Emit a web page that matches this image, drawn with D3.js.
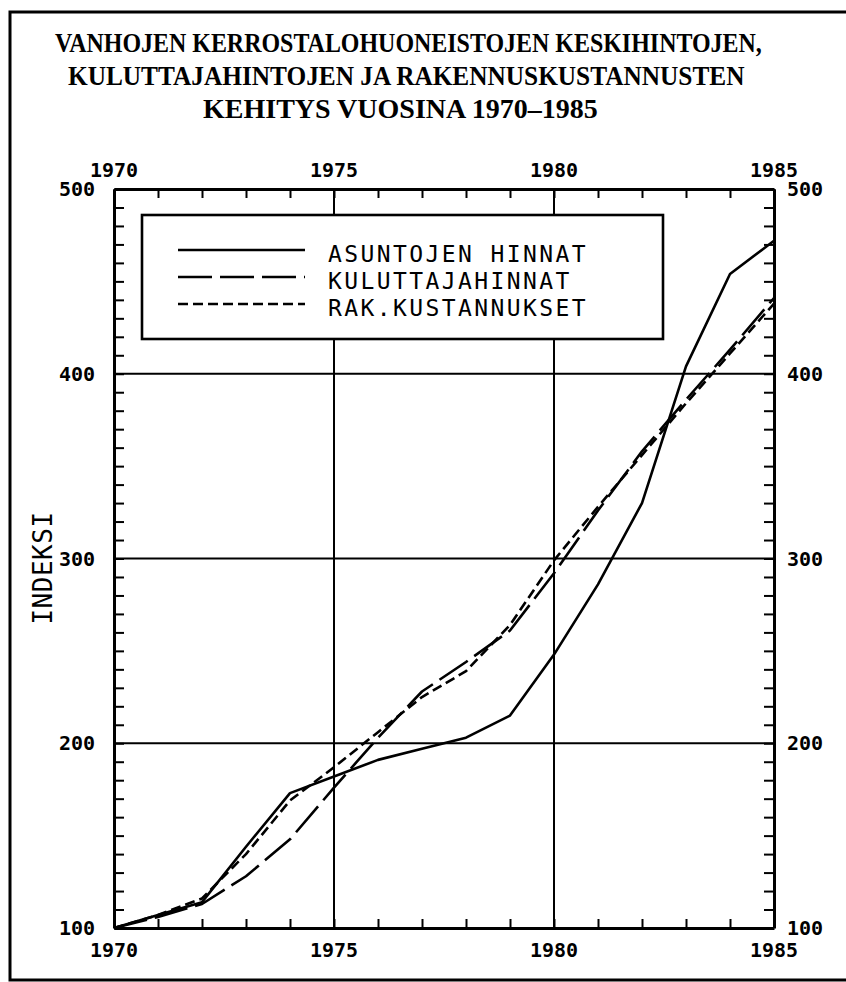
<!DOCTYPE html>
<html><head><meta charset="utf-8">
<script src="https://cdn.jsdelivr.net/npm/d3@7"></script>
<style>html,body{margin:0;padding:0;background:#fff;} svg{display:block}</style>
</head><body><svg id="c" width="846" height="982"></svg>
<script>
// ---- data ----
const titleLines = ["VANHOJEN KERROSTALOHUONEISTOJEN KESKIHINTOJEN,", "KULUTTAJAHINTOJEN JA RAKENNUSKUSTANNUSTEN", "KEHITYS VUOSINA 1970\u20131985"];
const years = [1970,1971,1972,1973,1974,1975,1976,1977,1978,1979,1980,1981,1982,1983,1984,1985];
const asuntojenHinnat = [100,107,114,144,173,182,191,197,203,215,248,286,330,404,454,472];
const kuluttajahinnat = [100,106,113,128,148,176,203,228,244,261,292,326,358,386,413,441];
const rakKustannukset = [100,107,116,140,169,187,206,225,239,264,299,328,356,384,411,438];
const seriesNames = ["ASUNTOJEN HINNAT","KULUTTAJAHINNAT","RAK.KUSTANNUKSET"];
const xTickLabels = [1970,1975,1980,1985];
const yTickLabels = [100,200,300,400,500];
const gridYears = [1975,1980];
const gridValues = [200,300,400];
const yTitle = "INDEKSI";

// ---- chart ----
const svg = d3.select("#c");
const ink = "#000";
const x = d3.scaleLinear().domain([1970,1985]).range([114,774]);
const y = d3.scaleLinear().domain([100,500]).range([928,189]);

// outer frame
svg.append("path").attr("d","M846,12 H10 V980 H846").attr("fill","none").attr("stroke",ink).attr("stroke-width",3);

// title (condensed with a horizontal scale)
const titleLayout = [{x:55,y:52,w:707},{x:68,y:85,w:677},{x:203,y:118,w:395}];
svg.selectAll("text.title").data(titleLines).join("text").attr("class","title")
  .attr("x",0).attr("y",0)
  .attr("font-family","'Liberation Serif','Times New Roman',serif").attr("font-weight","bold")
  .attr("font-size",27).attr("fill",ink).text(d=>d)
  .each(function(d,i){
    const L = titleLayout[i];
    const nat = this.getComputedTextLength();
    d3.select(this).attr("transform",`translate(${L.x},${L.y}) scale(${L.w/nat},1)`);
  });

// gridlines
svg.selectAll("line.gx").data(gridYears).join("line").attr("class","gx")
  .attr("x1",d=>x(d)).attr("x2",d=>x(d)).attr("y1",y(500)).attr("y2",y(100))
  .attr("stroke",ink).attr("stroke-width",2);
svg.selectAll("line.gy").data(gridValues).join("line").attr("class","gy")
  .attr("y1",d=>y(d)).attr("y2",d=>y(d)).attr("x1",x(1970)).attr("x2",x(1985))
  .attr("stroke",ink).attr("stroke-width",2);

// data lines
const series = [
  {name:seriesNames[0], values:asuntojenHinnat, dash:null},
  {name:seriesNames[1], values:kuluttajahinnat, dash:"34,8"},
  {name:seriesNames[2], values:rakKustannukset, dash:"10,5"}
];
const line = d3.line().x((d,i)=>x(years[i])).y(d=>y(d));
svg.selectAll("path.series").data(series).join("path").attr("class","series")
  .attr("d",d=>line(d.values)).attr("fill","none").attr("stroke",ink)
  .attr("stroke-width",2.6).attr("stroke-dasharray",d=>d.dash).attr("stroke-linejoin","round");

// axes (ticks inward)
const minorYears = d3.range(1970,1986,1);
const minorVals = d3.range(100,501,10);
function styleAxis(g){
  g.selectAll(".domain").attr("stroke",ink).attr("stroke-width",3);
  g.selectAll(".tick line").attr("stroke",ink).attr("stroke-width",2);
  g.selectAll(".tick text").remove();
}
svg.append("g").attr("transform",`translate(0,${y(100)})`)
  .call(d3.axisBottom(x).tickValues(minorYears).tickSize(-9).tickSizeOuter(0).tickFormat("")).call(styleAxis);
svg.append("g").attr("transform",`translate(0,${y(500)})`)
  .call(d3.axisTop(x).tickValues(minorYears).tickSize(-9).tickSizeOuter(0).tickFormat("")).call(styleAxis);
svg.append("g").attr("transform",`translate(${x(1970)},0)`)
  .call(d3.axisLeft(y).tickValues(minorVals).tickSize(-10).tickSizeOuter(0).tickFormat("")).call(styleAxis);
svg.append("g").attr("transform",`translate(${x(1985)},0)`)
  .call(d3.axisRight(y).tickValues(minorVals).tickSize(-10).tickSizeOuter(0).tickFormat("")).call(styleAxis);

// tick labels
const lblFont = "'DejaVu Sans Mono',monospace";
function lbl(sel){ return sel.attr("font-family",lblFont).attr("font-size",20).attr("font-weight","bold").attr("fill",ink); }
svg.selectAll("text.xb").data(xTickLabels).join("text").attr("class","xb")
  .attr("x",d=>x(d)).attr("y",957).attr("text-anchor","middle").call(lbl).text(d=>d);
svg.selectAll("text.xt").data(xTickLabels).join("text").attr("class","xt")
  .attr("x",d=>x(d)).attr("y",177).attr("text-anchor","middle").call(lbl).text(d=>d);
svg.selectAll("text.yl").data(yTickLabels).join("text").attr("class","yl")
  .attr("x",95).attr("y",d=>y(d)+7).attr("text-anchor","end").call(lbl).text(d=>d);
svg.selectAll("text.yr").data(yTickLabels).join("text").attr("class","yr")
  .attr("x",787).attr("y",d=>y(d)+7).attr("text-anchor","start").call(lbl).text(d=>d);

// y title
svg.append("text").attr("transform","translate(52,568) rotate(-90)").attr("text-anchor","middle")
  .attr("font-family",lblFont).attr("font-size",26).attr("letter-spacing",0.5).attr("fill",ink).text(yTitle);

// legend
const lg = svg.append("g");
lg.append("rect").attr("x",142).attr("y",215).attr("width",521).attr("height",124)
  .attr("fill","#fff").attr("stroke",ink).attr("stroke-width",2.6);
const rows = lg.selectAll("g.row").data(series).join("g").attr("class","row")
  .attr("transform",(d,i)=>`translate(0,${250+i*27})`);
rows.append("line").attr("x1",178).attr("x2",305).attr("y1",0).attr("y2",0)
  .attr("stroke",ink).attr("stroke-width",2.6).attr("stroke-dasharray",d=>d.dash);
rows.append("text").attr("x",328).attr("y",12).attr("font-family",lblFont).attr("font-size",23)
  .attr("letter-spacing",2.4).attr("fill",ink).text(d=>d.name);
</script></body></html>
